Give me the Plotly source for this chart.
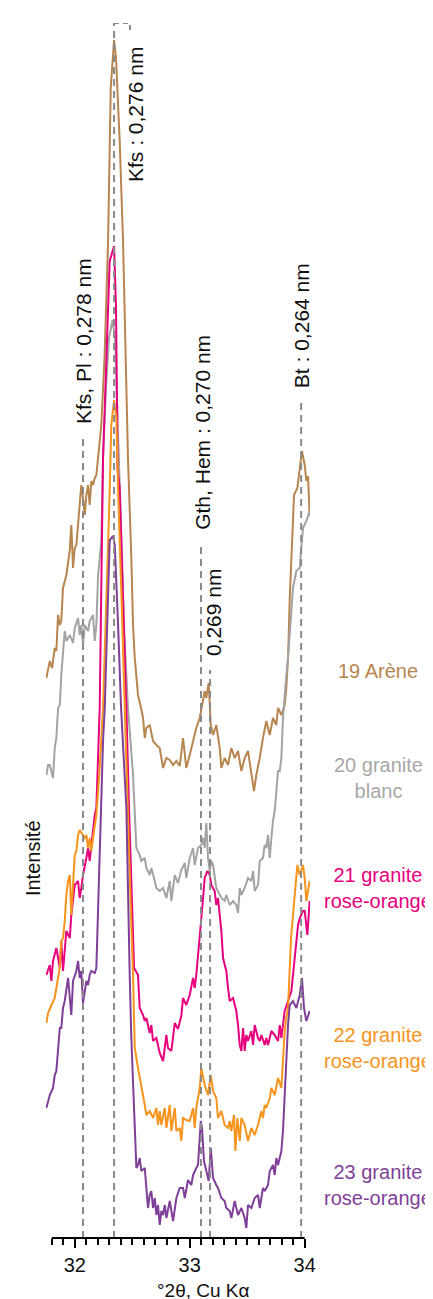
import plotly.graph_objects as go

# --- DATA: (2theta, intensity), arbitrary counts ---
arene_19 = [(31.753,560),(31.783,577),(31.803,570),(31.826,590),(31.840,587),(31.855,623),(31.870,613),(31.883,617),(31.898,650),(31.927,663),(31.957,688),(31.970,713),(31.985,670),(32.000,690),(32.014,693),(32.029,713),(32.043,730),(32.057,753),(32.072,740),(32.087,723),(32.101,743),(32.116,753),(32.130,733),(32.144,757),(32.159,753),(32.174,760),(32.188,763),(32.203,783),(32.217,793),(32.231,813),(32.259,880),(32.290,997),(32.313,1150),(32.342,1198),(32.359,1180),(32.391,1097),(32.420,997),(32.440,880),(32.463,780),(32.492,680),(32.507,613),(32.522,580),(32.550,543),(32.577,530),(32.594,520),(32.609,500),(32.623,510),(32.652,513),(32.681,497),(32.710,493),(32.739,490),(32.768,470),(32.797,480),(32.826,478),(32.855,473),(32.884,477),(32.913,472),(32.942,500),(32.970,470),(33.000,483),(33.029,497),(33.057,510),(33.087,520),(33.116,537),(33.130,547),(33.144,540),(33.165,555),(33.183,513),(33.203,503),(33.231,513),(33.261,490),(33.275,470),(33.304,480),(33.333,473),(33.362,490),(33.391,480),(33.420,487),(33.449,467),(33.478,480),(33.507,487),(33.536,467),(33.559,447),(33.579,463),(33.609,480),(33.637,500),(33.666,517),(33.696,503),(33.724,520),(33.753,513),(33.768,530),(33.797,523),(33.826,533),(33.840,550),(33.855,580),(33.870,640),(33.884,683),(33.907,743),(33.936,750),(33.957,770),(33.976,787),(34.000,773),(34.014,757),(34.029,762),(34.043,722)]

granite_blanc_20 = [(31.753,463),(31.768,473),(31.783,473),(31.811,460),(31.826,490),(31.840,500),(31.855,530),(31.870,533),(31.883,563),(31.913,607),(31.927,597),(31.957,603),(31.985,595),(32.000,610),(32.029,620),(32.043,603),(32.057,613),(32.072,593),(32.087,613),(32.116,607),(32.130,617),(32.159,623),(32.174,597),(32.188,613),(32.203,663),(32.231,697),(32.246,780),(32.272,850),(32.298,900),(32.329,918),(32.350,900),(32.377,810),(32.403,710),(32.429,610),(32.463,530),(32.507,463),(32.522,430),(32.536,390),(32.565,383),(32.579,377),(32.609,380),(32.623,370),(32.652,363),(32.666,370),(32.696,357),(32.710,350),(32.739,347),(32.768,350),(32.797,340),(32.826,357),(32.840,337),(32.870,363),(32.898,355),(32.927,368),(32.957,375),(32.970,360),(33.000,380),(33.029,390),(33.043,373),(33.072,390),(33.101,393),(33.116,400),(33.130,390),(33.144,415),(33.159,380),(33.174,367),(33.188,377),(33.203,373),(33.231,350),(33.246,347),(33.275,340),(33.304,337),(33.318,343),(33.348,333),(33.377,337),(33.405,333),(33.420,325),(33.435,350),(33.449,343),(33.478,350),(33.507,360),(33.536,357),(33.551,367),(33.565,347),(33.594,353),(33.609,377),(33.637,380),(33.652,393),(33.666,390),(33.681,403),(33.696,380),(33.710,400),(33.724,417),(33.739,427),(33.753,447),(33.768,467),(33.783,467),(33.797,480),(33.811,520),(33.826,547),(33.840,563),(33.855,580),(33.870,603),(33.898,650),(33.927,667),(33.957,670),(33.965,683),(33.985,710),(34.014,717),(34.043,727)]

rose_21 = [(31.753,263),(31.783,273),(31.797,257),(31.811,277),(31.840,290),(31.870,270),(31.883,297),(31.898,267),(31.927,307),(31.957,300),(31.970,323),(31.985,337),(32.000,353),(32.029,357),(32.043,340),(32.057,350),(32.072,363),(32.101,380),(32.116,390),(32.130,377),(32.144,393),(32.159,403),(32.174,423),(32.188,430),(32.203,480),(32.217,530),(32.246,780),(32.275,880),(32.304,977),(32.342,992),(32.359,930),(32.368,830),(32.372,770),(32.391,750),(32.420,647),(32.449,530),(32.472,430),(32.498,330),(32.516,270),(32.550,263),(32.565,230),(32.594,223),(32.609,217),(32.623,220),(32.652,205),(32.666,213),(32.681,197),(32.710,200),(32.739,185),(32.768,177),(32.797,203),(32.811,190),(32.840,187),(32.870,215),(32.898,209),(32.927,222),(32.942,240),(32.970,233),(33.000,243),(33.029,260),(33.043,250),(33.057,263),(33.072,280),(33.087,297),(33.101,320),(33.116,340),(33.130,360),(33.153,367),(33.174,363),(33.188,353),(33.217,347),(33.231,333),(33.246,340),(33.261,323),(33.275,307),(33.290,280),(33.318,267),(33.333,250),(33.348,237),(33.377,240),(33.405,227),(33.420,213),(33.435,193),(33.449,187),(33.464,210),(33.478,187),(33.492,203),(33.507,197),(33.536,207),(33.551,193),(33.565,213),(33.594,200),(33.609,197),(33.623,203),(33.652,193),(33.666,200),(33.681,193),(33.710,207),(33.739,203),(33.768,197),(33.783,213),(33.797,200),(33.826,227),(33.855,237),(33.884,247),(33.913,280),(33.942,313),(33.957,320),(33.985,327),(34.000,327),(34.023,303),(34.043,337)]

rose_22 = [(31.753,215),(31.768,225),(31.797,233),(31.826,240),(31.840,250),(31.870,270),(31.883,297),(31.898,300),(31.913,317),(31.927,343),(31.942,357),(31.957,363),(31.970,323),(31.985,357),(32.000,383),(32.014,387),(32.029,403),(32.043,408),(32.072,403),(32.087,400),(32.101,403),(32.116,390),(32.130,400),(32.144,387),(32.159,400),(32.174,410),(32.188,423),(32.203,447),(32.217,470),(32.246,530),(32.275,630),(32.304,747),(32.318,813),(32.342,838),(32.362,820),(32.377,747),(32.405,647),(32.433,530),(32.478,363),(32.507,263),(32.522,190),(32.550,170),(32.579,153),(32.609,133),(32.623,123),(32.652,127),(32.681,120),(32.710,130),(32.724,113),(32.739,127),(32.753,113),(32.783,130),(32.797,110),(32.826,133),(32.840,107),(32.870,130),(32.884,107),(32.913,110),(32.927,97),(32.942,120),(32.970,118),(33.000,117),(33.029,130),(33.043,110),(33.057,130),(33.087,150),(33.101,170),(33.130,153),(33.159,143),(33.183,163),(33.203,147),(33.231,140),(33.246,120),(33.275,127),(33.304,113),(33.333,110),(33.348,117),(33.362,107),(33.385,123),(33.397,87),(33.414,120),(33.435,97),(33.449,120),(33.478,113),(33.507,97),(33.536,110),(33.565,103),(33.594,113),(33.623,127),(33.637,120),(33.652,133),(33.666,130),(33.696,140),(33.710,150),(33.739,143),(33.768,160),(33.797,150),(33.811,177),(33.826,207),(33.840,220),(33.855,230),(33.881,300),(33.913,347),(33.936,373),(33.957,363),(33.985,373),(34.000,360),(34.014,337),(34.043,357)]

rose_23 = [(31.753,130),(31.783,143),(31.811,150),(31.826,163),(31.840,167),(31.855,190),(31.870,210),(31.883,210),(31.898,230),(31.913,237),(31.942,260),(31.970,223),(31.985,257),(32.014,267),(32.029,277),(32.043,260),(32.057,267),(32.072,235),(32.087,247),(32.101,257),(32.116,253),(32.130,263),(32.144,267),(32.174,265),(32.188,270),(32.203,330),(32.217,380),(32.231,430),(32.246,497),(32.261,530),(32.290,647),(32.304,698),(32.333,702),(32.348,693),(32.377,613),(32.403,530),(32.449,430),(32.463,330),(32.478,263),(32.492,200),(32.507,157),(32.522,103),(32.536,70),(32.550,73),(32.565,80),(32.579,67),(32.609,70),(32.623,50),(32.637,30),(32.652,43),(32.666,47),(32.681,30),(32.696,40),(32.710,23),(32.724,33),(32.739,13),(32.753,27),(32.768,23),(32.783,33),(32.797,20),(32.811,30),(32.826,37),(32.855,17),(32.870,30),(32.884,40),(32.913,50),(32.942,50),(32.957,40),(32.985,58),(33.014,53),(33.029,63),(33.057,70),(33.072,73),(33.096,117),(33.107,110),(33.124,77),(33.144,67),(33.165,57),(33.183,90),(33.203,60),(33.231,53),(33.246,50),(33.275,40),(33.304,37),(33.318,30),(33.348,27),(33.362,20),(33.391,37),(33.420,23),(33.449,30),(33.478,20),(33.492,10),(33.507,33),(33.536,30),(33.565,40),(33.594,43),(33.609,30),(33.637,50),(33.652,47),(33.681,53),(33.696,67),(33.724,73),(33.739,63),(33.753,80),(33.768,73),(33.797,87),(33.811,107),(33.826,147),(33.840,180),(33.855,213),(33.870,233),(33.898,237),(33.927,230),(33.957,243),(33.976,260),(33.994,230),(34.014,217),(34.043,227)]

# reference peak positions and their labels
peak_pos = [32.072, 32.342, 33.098, 33.177, 33.969]
peak_top = [800, 1215, 693, 568, 838]
peak_text = ["Kfs, Pl : 0,278 nm", "Kfs : 0,276 nm", "Gth, Hem : 0,270 nm", "0,269 nm", "Bt : 0,264 nm"]
label_x = [32.072, 32.524, 33.105, 33.203, 33.969]
label_y = [897, 1123, 806, 626, 912]

samples = [
    ("19 Arène", arene_19, "#b8854f", "#b8854f", 567),
    ("20 granite<br>blanc", granite_blanc_20, "#a3a3a3", "#a8a8a8", 460),
    ("21 granite<br>rose-orangé", rose_21, "#e6007e", "#e6007e", 350),
    ("22 granite<br>rose-orangé", rose_22, "#f7941d", "#f7941d", 190),
    ("23 granite<br>rose-orangé", rose_23, "#7f3f98", "#7f3f98", 53),
]

FONT = "Liberation Sans, Arial, sans-serif"
DASH = "#8a8a8a"

fig = go.Figure()

for name, pts, col, txtcol, ly in samples:
    fig.add_trace(go.Scatter(
        x=[p[0] for p in pts], y=[p[1] for p in pts],
        mode="lines", line=dict(color=col, width=2),
        name=name, showlegend=False, hoverinfo="skip",
    ))
    fig.add_annotation(
        text=name, xref="paper", x=1.2576, yref="y", y=ly,
        showarrow=False, xanchor="center", yanchor="middle",
        font=dict(family=FONT, size=20, color=txtcol), align="center",
    )

shapes = []
for pos, top in zip(peak_pos, peak_top):
    shapes.append(dict(type="line", xref="x", yref="y", x0=pos, x1=pos, y0=0, y1=top,
                       line=dict(color=DASH, width=2, dash="7px,5px"), layer="above"))
# small bracket on top of the Kfs 0,276 line
shapes.append(dict(type="path", xref="x", yref="y",
                   path="M 32.342 1215 L 32.481 1215 L 32.481 1206",
                   line=dict(color=DASH, width=2, dash="5px,4px"), layer="above"))
# x axis line
shapes.append(dict(type="line", xref="x", yref="paper", x0=31.8, x1=34.0, y0=0, y1=0,
                   line=dict(color="black", width=2)))

for txt, lx, ly in zip(peak_text, label_x, label_y):
    fig.add_annotation(text=txt, x=lx, y=ly, xref="x", yref="y", showarrow=False,
                       textangle=-90, xanchor="center", yanchor="middle",
                       font=dict(family=FONT, size=21, color="#111111"))

fig.add_annotation(text="°2θ, Cu Kα", xref="x", x=33.116, yref="paper", y=-0.0428,
                   showarrow=False, xanchor="center", yanchor="middle",
                   font=dict(family=FONT, size=19, color="#111111"))
fig.add_annotation(text="Intensité", xref="paper", x=-0.049, yref="y", y=380,
                   showarrow=False, textangle=-90, xanchor="center", yanchor="middle",
                   font=dict(family=FONT, size=20, color="#111111"))

fig.update_layout(
    width=433, height=1299,
    margin=dict(l=38, r=131, t=15, b=69),
    paper_bgcolor="white", plot_bgcolor="white",
    shapes=shapes,
    xaxis=dict(
        range=[31.750, 34.046], showgrid=False, zeroline=False, showline=False,
        tickvals=[32, 33, 34], ticktext=["32", "33", "34"],
        ticks="outside", ticklen=9, tickwidth=2, tickcolor="black",
        tickfont=dict(family=FONT, size=20, color="#111111"),
        minor=dict(ticks="outside", dtick=0.1, tick0=31.8, ticklen=6, tickwidth=2,
                   tickcolor="black", showgrid=False),
    ),
    yaxis=dict(range=[0, 1215], visible=False),
)

fig.write_html("out.html")
